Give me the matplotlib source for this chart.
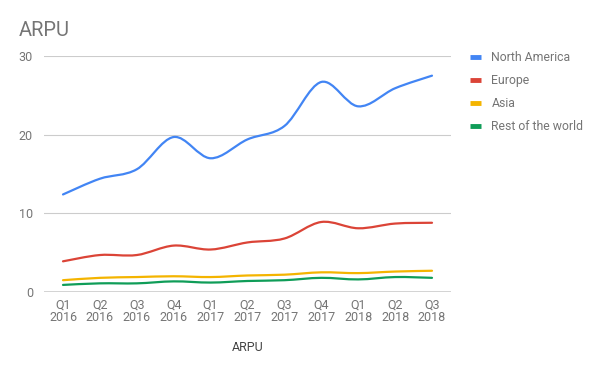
import numpy as np
import matplotlib
matplotlib.use("Agg")
import matplotlib.pyplot as plt
from matplotlib.path import Path
from matplotlib.patches import PathPatch
from matplotlib.lines import Line2D

plt.rcParams['font.family'] = ['Roboto', 'DejaVu Sans']

quarters = ["Q1\n2016", "Q2\n2016", "Q3\n2016", "Q4\n2016", "Q1\n2017", "Q2\n2017",
            "Q3\n2017", "Q4\n2017", "Q1\n2018", "Q2\n2018", "Q3\n2018"]
north_america = [12.4, 14.4, 15.6, 19.7, 17.0, 19.4, 21.1, 26.7, 23.6, 25.9, 27.5]
europe = [3.9, 4.7, 4.7, 5.9, 5.4, 6.3, 6.8, 8.9, 8.1, 8.7, 8.8]
asia = [1.5, 1.8, 1.9, 2.0, 1.9, 2.1, 2.2, 2.5, 2.4, 2.6, 2.7]
rest_of_world = [0.9, 1.1, 1.1, 1.35, 1.2, 1.4, 1.5, 1.8, 1.6, 1.9, 1.8]

series = [("North America", north_america, "#4285F4"),
          ("Europe", europe, "#DB4437"),
          ("Asia", asia, "#F4B400"),
          ("Rest of the world", rest_of_world, "#0F9D58")]

fig = plt.figure(figsize=(6.0, 3.71), dpi=100)
W, H = 600, 371
ax = fig.add_axes([44 / W, 1 - 292 / H, (451 - 44) / W, (292 - 56) / H])


def smooth_path(xs, ys, k=1 / 6):
    xs = np.asarray(xs, float)
    ys = np.asarray(ys, float)
    n = len(xs)
    verts = [(xs[0], ys[0])]
    codes = [Path.MOVETO]
    for i in range(n - 1):
        i0 = max(i - 1, 0)
        i3 = min(i + 2, n - 1)
        c1 = (xs[i] + (xs[i + 1] - xs[i0]) * k, ys[i] + (ys[i + 1] - ys[i0]) * k)
        c2 = (xs[i + 1] - (xs[i3] - xs[i]) * k, ys[i + 1] - (ys[i3] - ys[i]) * k)
        verts += [c1, c2, (xs[i + 1], ys[i + 1])]
        codes += [Path.CURVE4] * 3
    return Path(verts, codes)


x = np.arange(len(quarters))
for name, vals, col in reversed(series):
    p = PathPatch(smooth_path(x, vals), fill=False, edgecolor=col, lw=1.6,
                  capstyle='round', joinstyle='round', zorder=3)
    ax.add_patch(p)

ax.set_xlim(-0.515, len(quarters) - 1 + 0.515)
ax.set_ylim(0, 30)
ax.set_yticks([0, 10, 20, 30])
ax.set_xticks(x)
ax.set_xticklabels(quarters, linespacing=0.95)
for s in ax.spines.values():
    s.set_visible(False)
ax.grid(axis='y', color='#cccccc', lw=0.8)
ax.axhline(0, color='#333333', lw=1.0, zorder=2)
ax.tick_params(length=0, labelsize=9, labelcolor='#757575')
ax.tick_params(axis='x', pad=5)
ax.tick_params(axis='y', pad=8)
ax.set_axisbelow(True)

ax.set_xlabel("ARPU", fontsize=9, color='#444444', labelpad=12)
fig.text(19 / W, 1 - 30 / H, "ARPU", fontsize=14.5, color='#757575', va='center', ha='left')

handles = [Line2D([], [], color=c, lw=3.5, solid_capstyle='butt') for _, _, c in series]
labels = [n for n, _, _ in series]
fig.legend(handles, labels, loc='upper left', bbox_to_anchor=(470 / W, 1 - 51 / H),
           frameon=False, fontsize=8.8, labelcolor='#757575', handlelength=0.9,
           handletextpad=0.85, labelspacing=0.82, borderaxespad=0, borderpad=0)

fig.savefig("out.png", dpi=100)
